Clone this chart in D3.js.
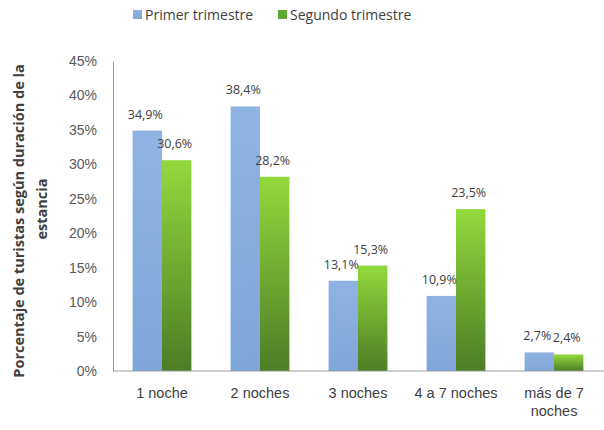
<!DOCTYPE html>
<html><head><meta charset="utf-8">
<script src="https://cdn.jsdelivr.net/npm/d3@7"></script>
<style>body{margin:0;background:#fff}svg{display:block;font-family:"Open Sans",sans-serif}</style>
</head><body>
<svg id="c" width="604" height="430"></svg>
<script>
const categories = ["1 noche", "2 noches", "3 noches", "4 a 7 noches", "más de 7 noches"];
const seriesNames = ["Primer trimestre", "Segundo trimestre"];
const primer = [34.9, 38.4, 13.1, 10.9, 2.7];
const segundo = [30.6, 28.2, 15.3, 23.5, 2.4];
const yTicks = [0, 5, 10, 15, 20, 25, 30, 35, 40, 45];

const svg = d3.select("#c");
const defs = svg.append("defs");
const gb = defs.append("linearGradient").attr("id","gBlue").attr("x1",0).attr("y1",0).attr("x2",0).attr("y2",1);
gb.append("stop").attr("offset","0%").attr("stop-color","#8fb4e3");
gb.append("stop").attr("offset","100%").attr("stop-color","#7fa6d8");
const gg = defs.append("linearGradient").attr("id","gGreen").attr("x1",0).attr("y1",0).attr("x2",0).attr("y2",1);
gg.append("stop").attr("offset","0%").attr("stop-color","#92d93c");
gg.append("stop").attr("offset","100%").attr("stop-color","#4c7d26");

const m = {l:113, r:1, t:61, b:59};
const W = 604, H = 430;
const x = d3.scaleBand().domain(categories).range([m.l, W - m.r]).paddingInner(0.4).paddingOuter(0.2);
const x1 = d3.scaleBand().domain(seriesNames).range([0, x.bandwidth()]);
const y = d3.scaleLinear().domain([0,45]).range([H - m.b, m.t]);

// y axis
const ya = svg.append("g").attr("transform",`translate(${m.l},0)`)
  .call(d3.axisLeft(y).tickValues(yTicks).tickSize(0).tickPadding(16).tickFormat(d => d + "%"));
ya.select(".domain").attr("stroke","#9a9a9a");
ya.selectAll("text").attr("fill","#595959").style("font-size","14px");

// bars
const data = categories.map((c,i)=>({c, vals:[{s:seriesNames[0],v:primer[i]},{s:seriesNames[1],v:segundo[i]}]}));
const grp = svg.selectAll(".grp").data(data).join("g").attr("transform",d=>`translate(${x(d.c)},0)`);
grp.selectAll("rect").data(d=>d.vals).join("rect")
  .attr("x",d=>x1(d.s)).attr("width",x1.bandwidth())
  .attr("y",d=>y(d.v)).attr("height",d=>y(0)-y(d.v))
  .attr("fill",(d,i)=> i===0 ? "url(#gBlue)" : "url(#gGreen)");
grp.selectAll("text").data(d=>d.vals).join("text")
  .attr("x",d=>x1(d.s)+x1.bandwidth()/2 - 2).attr("y",d=>y(d.v)-12)
  .attr("text-anchor","middle").attr("fill","#404040").style("font-size","12.5px")
  .text(d=>d3.format(".1f")(d.v).replace(".",",")+"%");

// x axis
const xa = svg.append("g").attr("transform",`translate(0,${y(0)})`)
  .call(d3.axisBottom(x).tickSize(0).tickPadding(17));
xa.select(".domain").attr("stroke","#9a9a9a").attr("d",`M${m.l},0H${W}`);
xa.selectAll("text").attr("fill","#404040").style("font-size","14.5px").each(function(d){
  if (d === "más de 7 noches") {
    const t = d3.select(this); t.text("");
    t.append("tspan").attr("x",0).text("más de 7");
    t.append("tspan").attr("x",0).attr("dy","1.25em").text("noches");
  }
});

// y title
const yt = svg.append("g").attr("fill","#404040").style("font-size","14.5px").style("font-weight","bold");
yt.append("text").attr("transform","translate(24,221) rotate(-90)").attr("text-anchor","middle")
  .text("Porcentaje de turistas según  duración de la");
yt.append("text").attr("transform","translate(47,209) rotate(-90)").attr("text-anchor","middle")
  .text("estancia");

// legend
const leg = svg.append("g");
const items = [{n:seriesNames[0], f:"url(#gBlue)", x:133},{n:seriesNames[1], f:"#5da832", x:278}];
items.forEach(it=>{
  leg.append("rect").attr("x",it.x).attr("y",10).attr("width",9).attr("height",9).attr("fill",it.f);
  leg.append("text").attr("x",it.x+12).attr("y",20).attr("fill","#404040").style("font-size","14px").text(it.n);
});
</script>
</body></html>
